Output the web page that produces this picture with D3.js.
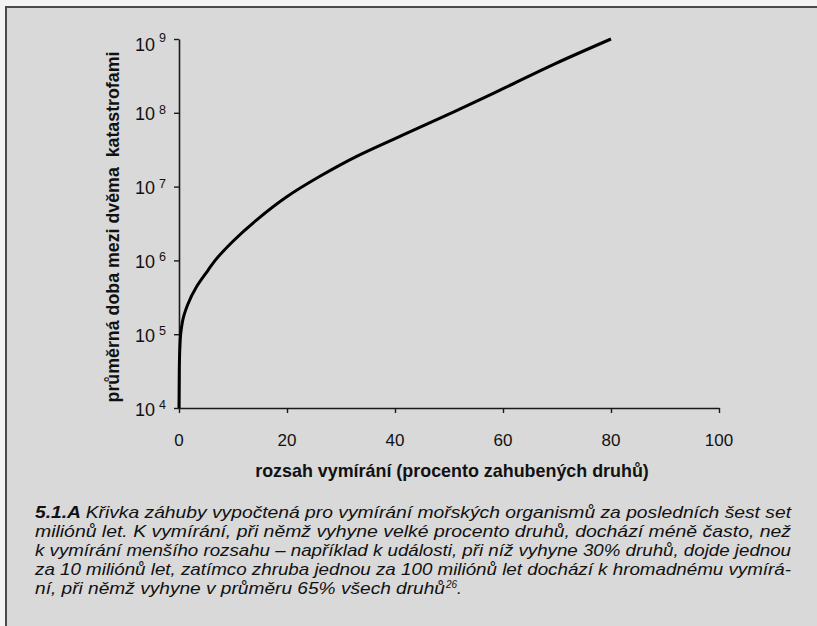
<!DOCTYPE html>
<html>
<head>
<meta charset="utf-8">
<script src="https://cdn.jsdelivr.net/npm/d3@7"></script>
<style>
  html, body { margin: 0; padding: 0; background: #f3f3f3; }
  svg { display: block; }
</style>
</head>
<body>
<svg id="chart" width="817" height="626"></svg>
<script>
// ---- data ----
const extinctionPercent = [0, 0.05, 0.15, 0.31, 0.9, 1.6, 3.3, 5.4, 6.7, 10.0, 14.4, 19.9, 26.1, 32.9, 41.5, 50.8, 60.1, 69.5, 80];
const meanWaitYears = [10000, 31600, 63100, 100000, 178000, 251000, 447000, 741000, 1000000, 1820000, 3550000, 7240000, 13800000, 25700000, 50100000, 102000000, 214000000, 457000000, 1000000000];
const xTicks = [0, 20, 40, 60, 80, 100];
const yTickExponents = [4, 5, 6, 7, 8, 9];
const yTickValues = [1e4, 1e5, 1e6, 1e7, 1e8, 1e9];
const xTitle = "rozsah vymírání (procento zahubených druhů)";
const yTitle = "průměrná doba mezi dvěma\u00A0 katastrofami";
const captionLead = "5.1.A";
const captionLines = [
  "Křivka záhuby vypočtená pro vymírání mořských organismů za posledních šest set",
  "miliónů let. K vymírání, při němž vyhyne velké procento druhů, dochází méně často, než",
  "k vymírání menšího rozsahu – například k události, při níž vyhyne 30% druhů, dojde jednou",
  "za 10 miliónů let, zatímco zhruba jednou za 100 miliónů let dochází k hromadnému vymírá-",
  "ní, při němž vyhyne v průměru 65% všech druhů"
];
const captionNote = "26";

const FONT = "'Liberation Sans', Arial, Helvetica, sans-serif";
const svg = d3.select("#chart");

// panel
svg.append("rect").attr("x", 6).attr("y", 7).attr("width", 900).attr("height", 700)
  .attr("fill", "#d9d9d9").attr("stroke", "#4a4a4a").attr("stroke-width", 2);

const x = d3.scaleLinear().domain([0, 100]).range([179, 719]);
const y = d3.scaleLog().domain([1e4, 1e9]).range([408, 39]);

// axes
const gx = svg.append("g").attr("transform", `translate(0,${y(1e4)})`)
  .call(d3.axisBottom(x).tickValues(xTicks).tickSize(5).tickSizeOuter(0).tickFormat(""));
const gy = svg.append("g").attr("transform", `translate(${x(0)},0)`)
  .call(d3.axisLeft(y).tickValues(yTickValues).tickSize(5).tickSizeOuter(0).tickFormat(""));
[gx, gy].forEach(g => {
  g.selectAll("path.domain").attr("stroke", "#1a1a1a").attr("stroke-width", 1.6);
  g.selectAll(".tick line").attr("stroke", "#1a1a1a").attr("stroke-width", 1.4);
});

// x tick labels
svg.append("g").selectAll("text").data(xTicks).join("text")
  .attr("x", d => x(d)).attr("y", 446)
  .attr("text-anchor", "middle")
  .attr("font-family", FONT).attr("font-size", 17).attr("fill", "#111")
  .text(d => d);

// y tick labels (10 with superscript exponent)
const yl = svg.append("g").selectAll("g").data(yTickExponents).join("g")
  .attr("transform", (d, i) => `translate(0,${y(yTickValues[i])})`);
yl.append("text").attr("x", 155).attr("y", (d, i) => i === yTickExponents.length - 1 ? 12 : 7.5)
  .attr("text-anchor", "end")
  .attr("font-family", FONT).attr("font-size", 18).attr("fill", "#111").text("10");
yl.append("text").attr("x", 159).attr("y", (d, i) => i === yTickExponents.length - 1 ? 3 : 1)
  .attr("text-anchor", "start")
  .attr("font-family", FONT).attr("font-size", 12.5).attr("fill", "#111").text(d => d);

// curve
const line = d3.line()
  .x((d, i) => x(extinctionPercent[i]))
  .y(d => y(d))
  .curve(d3.curveMonotoneY);
svg.append("path").datum(meanWaitYears)
  .attr("d", line).attr("fill", "none").attr("stroke", "#000")
  .attr("stroke-width", 3).attr("stroke-linejoin", "round");

// axis titles, sized to the reference extents
function fitText(sel, target) {
  const w = sel.node().getComputedTextLength();
  const fs = parseFloat(sel.attr("font-size"));
  sel.attr("font-size", fs * target / w);
}
const xt = svg.append("text").attr("x", 452).attr("y", 477)
  .attr("text-anchor", "middle").attr("font-family", FONT).attr("font-weight", "bold")
  .attr("font-size", 16).attr("fill", "#111").text(xTitle);
fitText(xt, 394);
const yt = svg.append("text").attr("transform", `translate(119,227) rotate(-90)`)
  .attr("text-anchor", "middle").attr("font-family", FONT).attr("font-weight", "bold")
  .attr("font-size", 16).attr("fill", "#111").text(yTitle);
fitText(yt, 351);

// caption (justified lines)
const capLeft = 35, capRight = 791, capTop = 518, capStep = 19.1, capSize = 17;
const cap = svg.append("g").attr("font-family", FONT).attr("font-style", "italic")
  .attr("font-size", capSize).attr("fill", "#111");
captionLines.forEach((ln, li) => {
  const by = capTop + li * capStep;
  const last = li === captionLines.length - 1;
  const t = cap.append("text").attr("x", capLeft).attr("y", by);
  if (li === 0) {
    t.append("tspan").attr("font-weight", "bold").text(captionLead + " ");
  }
  t.append("tspan").text(ln);
  const target = last ? 410 : capRight - capLeft;
  t.attr("textLength", target).attr("lengthAdjust", "spacingAndGlyphs");
  if (last) {
    cap.append("text").attr("x", capLeft + target + 1).attr("y", by - 6)
      .attr("font-size", 10).text(captionNote);
    cap.append("text").attr("x", capLeft + target + 12).attr("y", by).text(".");
  }
});
</script>
</body>
</html>
